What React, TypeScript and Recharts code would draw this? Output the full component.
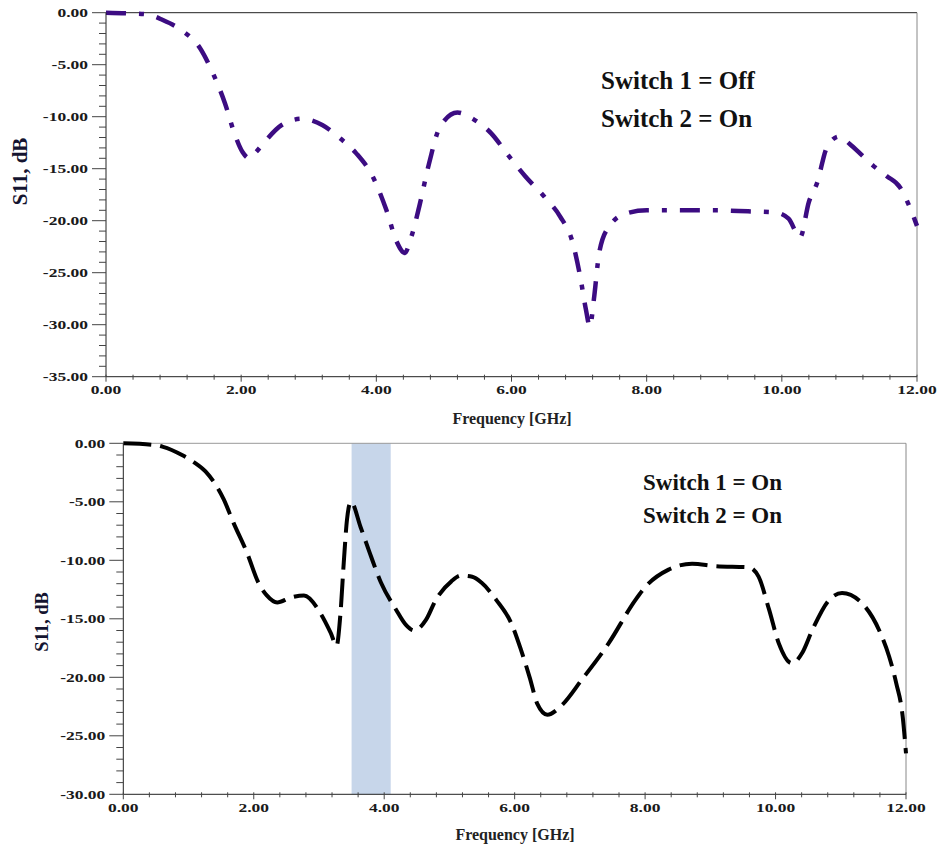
import React from 'react'
import {
  LineChart,
  Line,
  XAxis,
  YAxis,
  ReferenceLine,
  ReferenceArea,
  Customized,
} from 'recharts'

// switch 1 off / switch 2 on
const topFreq = [
  0, 0.3, 0.6, 0.84, 1.12, 1.39, 1.58, 1.76, 1.9, 2.02, 2.12, 2.22, 2.35, 2.6, 2.9, 3.2, 3.45, 3.7,
  3.95, 4.15, 4.3, 4.42, 4.52, 4.64, 4.78, 4.94, 5.2, 5.45, 5.7, 5.95, 6.2, 6.5, 6.72, 6.9, 7.02,
  7.1, 7.16, 7.22, 7.3, 7.45, 7.7, 8.0, 8.5, 9.0, 9.5, 9.9, 10.1, 10.27, 10.4, 10.52, 10.67, 10.85,
  11.0, 11.2, 11.35, 11.55, 11.75, 11.88, 12.0,
]
const topS11 = [
  0, -0.05, -0.15, -0.7, -1.7, -3.4, -5.8, -8.7, -11.6, -13.4, -14.0, -13.4, -12.4, -10.8, -10.2,
  -10.8, -12.0, -13.5, -15.8, -19.0, -22.0, -23.1, -21.5, -18.5, -14.5, -11.0, -9.6, -10.3, -11.6,
  -13.7, -15.7, -17.8, -19.6, -22.0, -25.5, -28.5, -30.2, -27.5, -23.0, -20.5, -19.3, -19.0, -19.0,
  -19.0, -19.1, -19.2, -19.8, -21.6, -18.2, -16.4, -12.9, -11.9, -12.6, -13.8, -14.7, -15.7, -16.8,
  -18.5, -20.5,
]

// switch 1 on / switch 2 on
const botFreq = [
  0, 0.49, 0.61, 0.9, 1.08, 1.26, 1.54, 1.69, 1.9, 2.07, 2.2, 2.36, 2.56, 2.77, 3.02, 3.18, 3.27,
  3.33, 3.38, 3.43, 3.49, 3.64, 3.8, 3.95, 4.18, 4.33, 4.46, 4.64, 4.79, 5.03, 5.18, 5.35, 5.49,
  5.72, 5.95, 6.1, 6.23, 6.35, 6.5, 6.72, 7.03, 7.44, 7.85, 8.0, 8.36, 8.72, 9.08, 9.59, 9.74, 9.9,
  10.05, 10.25, 10.41, 10.56, 10.82, 11.02, 11.33, 11.59, 11.74, 11.85, 11.95, 12.0,
]
const botS11 = [
  0, -0.15, -0.3, -1.0, -1.6, -2.4, -4.8, -6.8, -9.4, -11.9, -13.0, -13.6, -13.2, -13.0, -14.5,
  -16.2, -17.3, -14.5, -10.2, -6.5, -5.0, -7.2, -9.7, -11.9, -14.2, -15.5, -16.0, -15.1, -13.4,
  -11.8, -11.3, -11.4, -11.9, -13.4, -15.4, -17.7, -20.0, -22.3, -23.2, -22.4, -20.2, -17.1, -13.4,
  -12.3, -10.8, -10.3, -10.5, -10.6, -11.4, -14.2, -17.1, -18.8, -17.9, -16.0, -13.4, -12.8, -13.7,
  -16.0, -18.2, -20.5, -23.4, -26.5,
]

const majorX = [0, 2, 4, 6, 8, 10, 12]
const topMajorY = [0, -5, -10, -15, -20, -25, -30, -35]
const botMajorY = [0, -5, -10, -15, -20, -25, -30]
const band = [3.5, 4.1]

const xTicks = Array.from({ length: 31 }, (_, i) => +(i * 0.4).toFixed(1))
const topYTicks = Array.from({ length: 36 }, (_, i) => -i)
const botYTicks = Array.from({ length: 31 }, (_, i) => -i)

const serif = '"Liberation Serif", "Times New Roman", serif'

const topData = topFreq.map((f, i) => ({ f, s: topS11[i] }))
const botData = botFreq.map((f, i) => ({ f, s: botS11[i] }))

const isMajorX = (v: number) => majorX.some((m) => Math.abs(m - v) < 1e-6)

function makeYTick(majors: number[]) {
  return function YTick(props: any) {
    const { x, y, payload } = props
    const v = payload.value
    const major = majors.includes(v)
    return (
      <g>
        <line x1={x - (major ? 14 : 7)} x2={x} y1={y} y2={y} stroke="#444" />
        {major && (
          <text
            transform={`translate(${x - 18},${y}) scale(1.4,1)`}
            textAnchor="end"
            dominantBaseline="central"
            fontFamily={serif}
            fontWeight="bold"
            fontSize={12.5}
            fill="#1a1a1a"
          >
            {v.toFixed(2)}
          </text>
        )}
      </g>
    )
  }
}

function XTick(props: any) {
  const { x, y, payload } = props
  const v = payload.value
  const major = isMajorX(v)
  return (
    <g>
      <line x1={x} x2={x} y1={y - 2} y2={y + (major ? 5 : 3)} stroke="#444" />
      {major && (
        <text
          transform={`translate(${x},${y + 13}) scale(1.4,1)`}
          textAnchor="middle"
          dominantBaseline="central"
          fontFamily={serif}
          fontWeight="bold"
          fontSize={12.5}
          fill="#1a1a1a"
        >
          {v.toFixed(2)}
        </text>
      )}
    </g>
  )
}

const TopTick = makeYTick(topMajorY)
const BotTick = makeYTick(botMajorY)

function Titles({ ylx, yly, ysize, xlx, xly, lines, lx, ly, lsize }: any) {
  return (
    <g fontFamily={serif} fontWeight="bold">
      <text
        transform={`translate(${ylx},${yly}) rotate(-90)`}
        textAnchor="middle"
        fontSize={ysize}
        fill="#141430"
      >
        S11, dB
      </text>
      <text x={xlx} y={xly} textAnchor="middle" fontSize={16} fill="#222">
        Frequency [GHz]
      </text>
      {lines.map((t: string, i: number) => (
        <text key={t} x={lx} y={ly[i]} fontSize={lsize} fill="#111">
          {t}
        </text>
      ))}
    </g>
  )
}

export default function App() {
  return (
    <div style={{ position: 'absolute', left: 0, top: 0, width: 939, height: 848, background: '#fff' }}>
      <LineChart
        width={939}
        height={430}
        data={topData}
        margin={{ top: 12.7, right: 22, bottom: 13.3, left: 0 }}
      >
        <XAxis
          dataKey="f"
          type="number"
          domain={[0, 12]}
          ticks={xTicks}
          interval={0}
          tickSize={0}
          tickMargin={0}
          tick={<XTick />}
          height={40}
          axisLine={{ stroke: '#222' }}
        />
        <YAxis
          type="number"
          domain={[-35, 0]}
          ticks={topYTicks}
          interval={0}
          tickSize={0}
          tickMargin={0}
          tick={<TopTick />}
          width={106}
          axisLine={{ stroke: '#222' }}
        />
        <ReferenceLine y={0} stroke="#222" />
        <ReferenceLine x={12} stroke="#888" />
        <Line
          type="monotone"
          dataKey="s"
          stroke="#3c0c82"
          strokeWidth={4.5}
          strokeDasharray="20 13 5 13"
          dot={false}
          isAnimationActive={false}
        />
        <Customized
          component={
            <Titles
              ylx={27}
              yly={171.5}
              ysize={21}
              xlx={512}
              xly={424}
              lines={['Switch 1 = Off', 'Switch 2 = On']}
              lx={601}
              ly={[89, 127]}
              lsize={25}
            />
          }
        />
      </LineChart>
      <LineChart
        width={939}
        height={418}
        data={botData}
        margin={{ top: 13.3, right: 33, bottom: 13.7, left: 0 }}
      >
        <XAxis
          dataKey="f"
          type="number"
          domain={[0, 12]}
          ticks={xTicks}
          interval={0}
          tickSize={0}
          tickMargin={0}
          tick={<XTick />}
          height={40}
          axisLine={{ stroke: '#222' }}
        />
        <YAxis
          type="number"
          domain={[-30, 0]}
          ticks={botYTicks}
          interval={0}
          tickSize={0}
          tickMargin={0}
          tick={<BotTick />}
          width={123.3}
          axisLine={{ stroke: '#222' }}
        />
        <ReferenceArea x1={band[0]} x2={band[1]} y1={-30} y2={0} fill="#c7d6ea" fillOpacity={1} />
        <ReferenceLine y={0} stroke="#999" />
        <ReferenceLine x={12} stroke="#888" />
        <Line
          type="monotone"
          dataKey="s"
          stroke="#000"
          strokeWidth={4}
          strokeDasharray="28 9"
          dot={false}
          isAnimationActive={false}
        />
        <Customized
          component={
            <Titles
              ylx={48}
              yly={192}
              ysize={18.5}
              xlx={515}
              xly={410}
              lines={['Switch 1 = On', 'Switch 2 = On']}
              lx={643}
              ly={[60, 93]}
              lsize={23}
            />
          }
        />
      </LineChart>
    </div>
  )
}
